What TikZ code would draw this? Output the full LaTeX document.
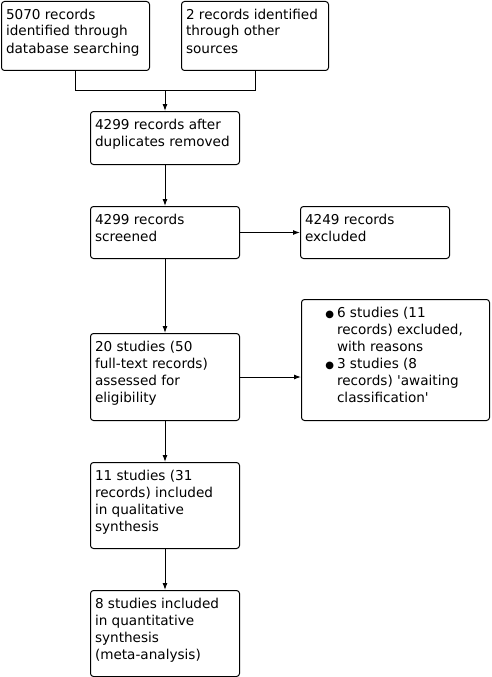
\documentclass[tikz,border=0pt]{standalone}
\usepackage{fontspec}
\setmainfont{DejaVu Sans}
\usetikzlibrary{arrows.meta}
\newcommand\bxt[3]{\parbox[c][#2pt][t]{#1pt}{\raggedright\rule{0pt}{17.5pt}#3}}
\newcommand\bul{\leavevmode\llap{{\fontsize{10}{10}\selectfont ●}\hspace{3pt}}}
\begin{document}
\begin{tikzpicture}[x=1pt,y=-1pt,
  box/.style={draw, line width=1pt, rounded corners=3pt, inner xsep=4.5pt, inner ysep=0pt,
    anchor=north west, font=\fontsize{13.6}{17}\selectfont},
  arr/.style={line width=1pt, -{Latex[length=7pt,width=5pt]}},
  ln/.style={line width=1pt}]
\useasboundingbox (0,0) rectangle (491,677);
\node[box] (b1) at (1,1) {\bxt{139}{69}{5070 records\\identified through\\database searching}};
\node[box] (b2) at (181,1) {\bxt{138}{69}{2 records identified\\through other\\sources}};
\node[box] (b3) at (90,111) {\bxt{140}{53}{4299 records after\\duplicates removed}};
\node[box] (b4) at (90,206) {\bxt{140}{52}{4299 records\\screened}};
\node[box] (b5) at (300,206) {\bxt{140}{52}{4249 records\\excluded}};
\node[box] (b6) at (90,333) {\bxt{140}{87}{20 studies (50\\full-text records)\\assessed for\\eligibility}};
\node[box] (b7) at (301,299) {\bxt{179}{121}{\hangindent=31pt\hangafter=0\bul 6 studies (11\newline records) excluded,\newline with reasons\par
  \hangindent=31pt\hangafter=0\bul 3 studies (8\newline records) \textquotesingle awaiting\newline classification\textquotesingle}};
\node[box] (b8) at (90,462) {\bxt{140}{86}{11 studies (31\\records) included\\in qualitative\\synthesis}};
\node[box] (b9) at (90,590) {\bxt{140}{86}{8 studies included\\in quantitative\\synthesis\\(meta-analysis)}};
\coordinate (m) at (b3.north |- 0,90);
\draw[ln] (b1.south) |- (m);
\draw[ln] (b2.south) |- (m);
\draw[arr] (m) -- (b3.north);
\draw[arr] (b3) -- (b4);
\draw[arr] (b4) -- (b5);
\draw[arr] (b4) -- (b6);
\draw[arr] (b6.east) -- (b6.east -| b7.west);
\draw[arr] (b6) -- (b8);
\draw[arr] (b8) -- (b9);
\end{tikzpicture}
\end{document}
